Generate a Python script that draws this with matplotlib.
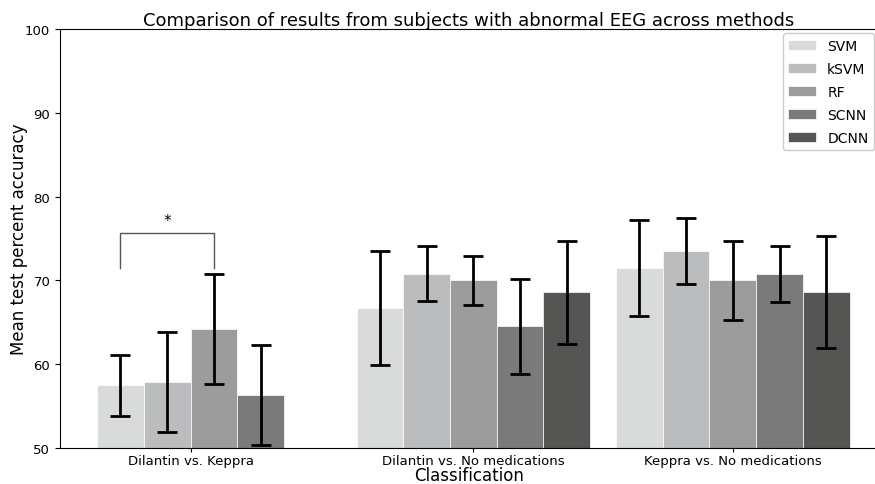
import numpy as np
import matplotlib
matplotlib.use("Agg")
import matplotlib.pyplot as plt

# data
groups = ["Dilantin vs. Keppra", "Dilantin vs. No medications", "Keppra vs. No medications"]
methods = ["SVM", "kSVM", "RF", "SCNN", "DCNN"]
colors = ["#d9dbdb", "#bbbcbe", "#9c9c9c", "#7a7a7a", "#555553"]

# mean accuracy per method, one value per group (None = not run)
svm_mean = [57.5, 66.7, 71.5]
ksvm_mean = [57.9, 70.8, 73.5]
rf_mean = [64.2, 70.0, 70.0]
scnn_mean = [56.3, 64.5, 70.8]
dcnn_mean = [None, 68.6, 68.6]

svm_err = [3.65, 6.8, 5.7]
ksvm_err = [6.0, 3.25, 3.95]
rf_err = [6.6, 2.9, 4.75]
scnn_err = [6.0, 5.7, 3.35]
dcnn_err = [None, 6.15, 6.65]

means = [svm_mean, ksvm_mean, rf_mean, scnn_mean, dcnn_mean]
errs = [svm_err, ksvm_err, rf_err, scnn_err, dcnn_err]

width = 0.18
starts = np.arange(len(groups))

fig = plt.figure(figsize=(8.75, 4.85), dpi=100)
ax = fig.add_axes([0.0686, 0.0742, 0.935, 0.864])

for i, (m, e) in enumerate(zip(means, errs)):
    xs = [s + i * width for s, v in zip(starts, m) if v is not None]
    ys = [v for v in m if v is not None]
    es = [v for v in e if v is not None]
    ax.bar(xs, np.array(ys) - 50, width=width, bottom=50, align="edge",
           color=colors[i], edgecolor="white", linewidth=0.5, label=methods[i])
    ax.errorbar(np.array(xs) + width / 2, ys, yerr=es, fmt="none",
                ecolor="black", elinewidth=2, capsize=7.5, capthick=2)

# tick at centre of the bars present in each group
n_bars = [sum(1 for m in means if m[g] is not None) for g in range(len(groups))]
ticks = [s + n * width / 2 for s, n in zip(starts, n_bars)]
ax.set_xticks(ticks)
ax.set_xticklabels(groups, fontsize=9.5)
ax.tick_params(axis="x", length=3, pad=1)
ax.tick_params(axis="y", labelsize=9.5)

# significance bracket between SVM and RF
x1 = starts[0] + width / 2
x2 = starts[0] + 2 * width + width / 2
ax.plot([x1, x1, x2, x2], [71.5, 75.6, 75.6, 71.5], color="#555555", lw=1)
ax.text((x1 + x2) / 2, 76.3, "*", ha="center", va="bottom", fontsize=11)

ax.set_xlim(-0.143, 3.01)
ax.set_ylim(50, 100)
ax.spines["right"].set_visible(False)

ax.set_xlabel("Classification", fontsize=12, labelpad=-0.5)
ax.set_ylabel("Mean test percent accuracy", fontsize=12)
ax.yaxis.set_label_coords(-0.039, 0.5)
ax.set_title("Comparison of results from subjects with abnormal EEG across methods", fontsize=13, pad=3)

ax.legend(loc="upper right", fontsize=10, handlelength=2.0, handletextpad=0.8,
          labelspacing=0.65, framealpha=1, borderaxespad=0.3)

fig.savefig("out.png", dpi=100)
